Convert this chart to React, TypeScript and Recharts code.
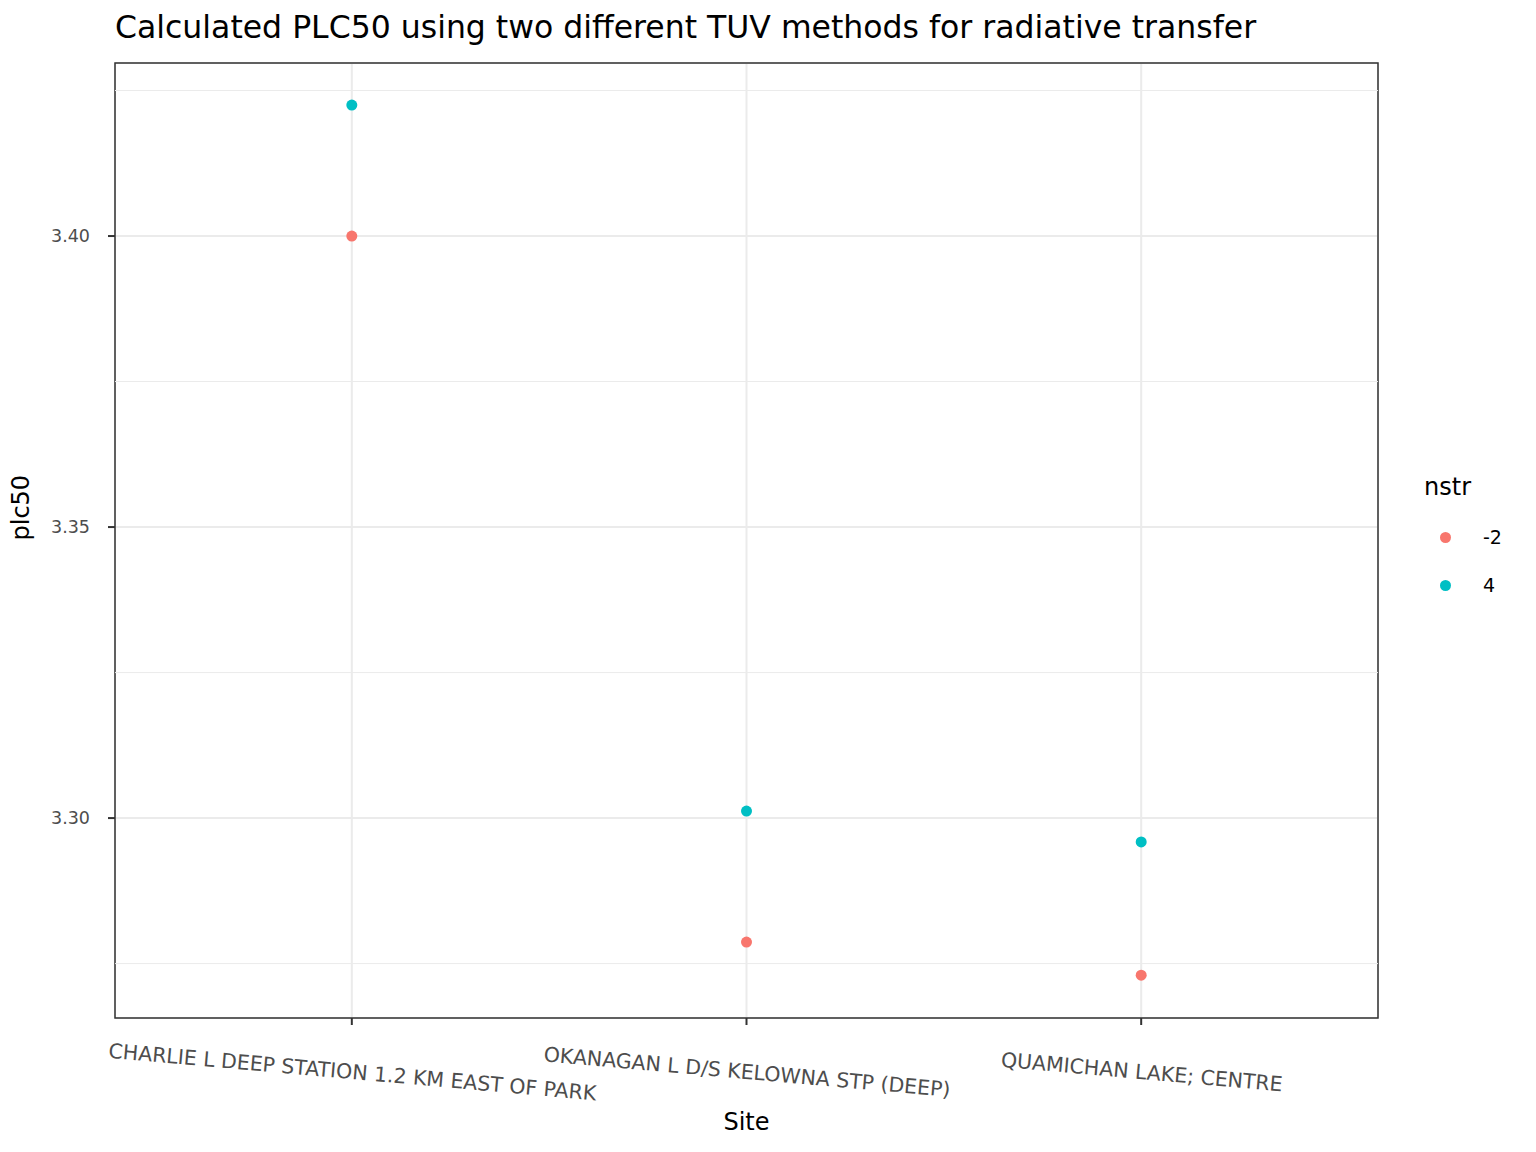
import { ScatterChart, Scatter, XAxis, YAxis, CartesianGrid, ReferenceLine, ReferenceArea } from 'recharts'

const sites = ['CHARLIE L DEEP STATION 1.2 KM EAST OF PARK', 'OKANAGAN L D/S KELOWNA STP (DEEP)', 'QUAMICHAN LAKE; CENTRE']
const plcNeg2 = [3.4, 3.2787, 3.273]
const plc4 = [3.4225, 3.3012, 3.2959]
const yTicks = [3.3, 3.35, 3.4]
const yMinor = [3.275, 3.325, 3.375, 3.425]

const red = '#F8766D'
const teal = '#00BFC4'
const font = 'DejaVu Sans, sans-serif'

const dataNeg2 = sites.map((s, i) => ({ x: i + 1, y: plcNeg2[i] }))
const data4 = sites.map((s, i) => ({ x: i + 1, y: plc4[i] }))

function SiteTick(props: any) {
  const { x, y, payload } = props
  return (
    <g transform={`translate(${x},${y + 52}) rotate(5)`}>
      <text textAnchor="middle" fontSize={20.5} fill="#4d4d4d" fontFamily={font}>{sites[payload.value - 1]}</text>
    </g>
  )
}

const dot = (color: string) => (p: any) => <circle cx={p.cx} cy={p.cy} r={5.5} fill={color} />

export default function App() {
  return (
    <div style={{ position: 'absolute', left: 0, top: 0, width: 1536, height: 1152, background: '#fff', fontFamily: font }}>
      <div style={{ position: 'absolute', left: 115, top: 9, fontSize: 31.5, color: '#000', whiteSpace: 'nowrap' }}>
        Calculated PLC50 using two different TUV methods for radiative transfer
      </div>
      <ScatterChart width={1536} height={1152} margin={{ top: 63, right: 158, bottom: 14, left: 20 }}>
        <CartesianGrid stroke="#ebebeb" strokeWidth={2} />
        {yMinor.map(v => <ReferenceLine key={v} y={v} stroke="#ebebeb" strokeWidth={1} />)}
        <XAxis type="number" dataKey="x" domain={[0.4, 3.6]} ticks={[1, 2, 3]} height={120}
          axisLine={false} tickLine={{ stroke: '#333', strokeWidth: 2 }} tickSize={7} tick={<SiteTick />}
          label={{ value: 'Site', position: 'insideBottom', offset: 8, fontSize: 24, fill: '#000', fontFamily: font }} />
        <YAxis type="number" dataKey="y" domain={[3.26565, 3.42973]} ticks={yTicks} width={95}
          allowDataOverflow axisLine={false} tickLine={{ stroke: '#333', strokeWidth: 2 }} tickSize={7}
          tickMargin={18}
          tickFormatter={(v: number) => v.toFixed(2)}
          tick={{ fontSize: 17.5, fill: '#4d4d4d', fontFamily: font }}
          label={{ value: 'plc50', angle: -90, position: 'insideLeft', offset: 0, fontSize: 24, fill: '#000', fontFamily: font }} />
        <ReferenceArea x1={0.4} x2={3.6} y1={3.26565} y2={3.42973} fill="none" stroke="#333" strokeWidth={1.5} />
        <Scatter data={dataNeg2} isAnimationActive={false} shape={dot(red)} />
        <Scatter data={data4} isAnimationActive={false} shape={dot(teal)} />
      </ScatterChart>
      <div style={{ position: 'absolute', left: 1424, top: 473, fontSize: 24 }}>nstr</div>
      <div style={{ position: 'absolute', left: 1440, top: 526, fontSize: 19, display: 'flex', alignItems: 'center' }}>
        <span style={{ width: 11, height: 11, borderRadius: 6, background: red, display: 'inline-block' }} />
        <span style={{ marginLeft: 32 }}>-2</span>
      </div>
      <div style={{ position: 'absolute', left: 1440, top: 574, fontSize: 19, display: 'flex', alignItems: 'center' }}>
        <span style={{ width: 11, height: 11, borderRadius: 6, background: teal, display: 'inline-block' }} />
        <span style={{ marginLeft: 32 }}>4</span>
      </div>
    </div>
  )
}
